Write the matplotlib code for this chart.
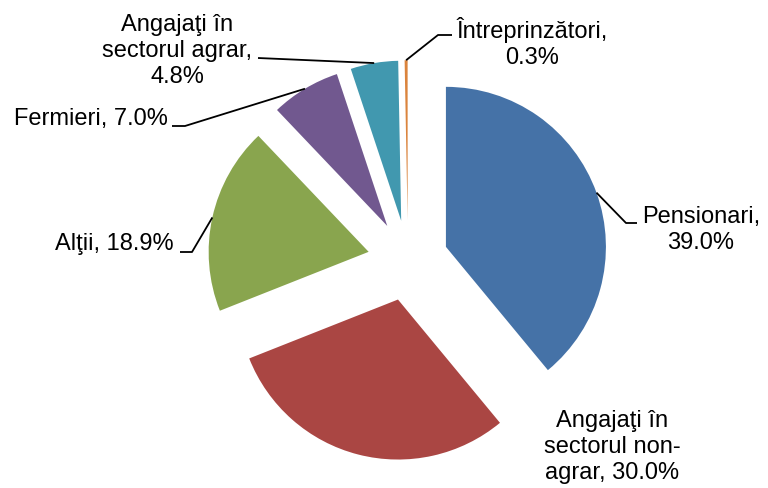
import matplotlib.pyplot as plt
import numpy as np

plt.rcParams['font.family'] = ['Liberation Sans', 'DejaVu Sans']

# data
categories = ['Pensionari', 'Angajaţi în\nsectorul non-\nagrar', 'Alţii', 'Fermieri',
              'Angajaţi în\nsectorul agrar', 'Întreprinzători']
shares = [39.0, 30.0, 18.9, 7.0, 4.8, 0.3]
colors = ['#4572A7', '#AA4643', '#89A54E', '#71588F', '#4198AF', '#DB843D']

W, H = 768, 488
fig = plt.figure(figsize=(W / 100, H / 100), dpi=100)
ax = fig.add_axes([0, 0, 1, 1])

radius = 160
center = (408, H - 260.5)
wedges, _ = ax.pie(shares, colors=colors, startangle=90, counterclock=False,
                   radius=radius, center=center, explode=[40.3] * len(shares),
                   wedgeprops=dict(linewidth=0))
ax.set_xlim(0, W)
ax.set_ylim(0, H)
ax.set_aspect('equal')
ax.axis('off')


def px(x, y):
    # pixel coords (top-left origin) -> data coords
    return x, H - y


def anchor(w):
    mid = np.deg2rad((w.theta1 + w.theta2) / 2)
    cx, cy = w.center
    return cx + w.r * np.cos(mid), cy + w.r * np.sin(mid)


# label layout: text position (pixels), alignment, separator, leader line elbows
layout = [
    dict(pos=(642, 230), ha='left', sep=',\n', path=[(626, 223), (637, 223)]),
    dict(pos=(612, 447), ha='center', sep=', ', path=None),
    dict(pos=(174, 244), ha='right', sep=', ', path=[(192, 252), (180, 252)]),
    dict(pos=(168, 119), ha='right', sep=', ', path=[(185, 126), (172, 126)]),
    dict(pos=(177, 51), ha='center', sep=',\n', path=[(258, 58)]),
    dict(pos=(532, 43), ha='center', sep=',\n', path=[(438, 35), (452, 35)]),
]

for w, cat, val, lay in zip(wedges, categories, shares, layout):
    txt = f"{cat}{lay['sep']}{val:.1f}%"
    tx, ty = px(*lay['pos'])
    ax.text(tx, ty, txt, ha=lay['ha'], va='center', fontsize=17,
            multialignment='center', linespacing=1.26, color='black')
    if lay['path']:
        pts = [anchor(w)] + [px(*p) for p in lay['path']]
        xs, ys = zip(*pts)
        ax.plot(xs, ys, color='black', lw=1.3, solid_capstyle='butt')

fig.savefig('out.png', dpi=100)
